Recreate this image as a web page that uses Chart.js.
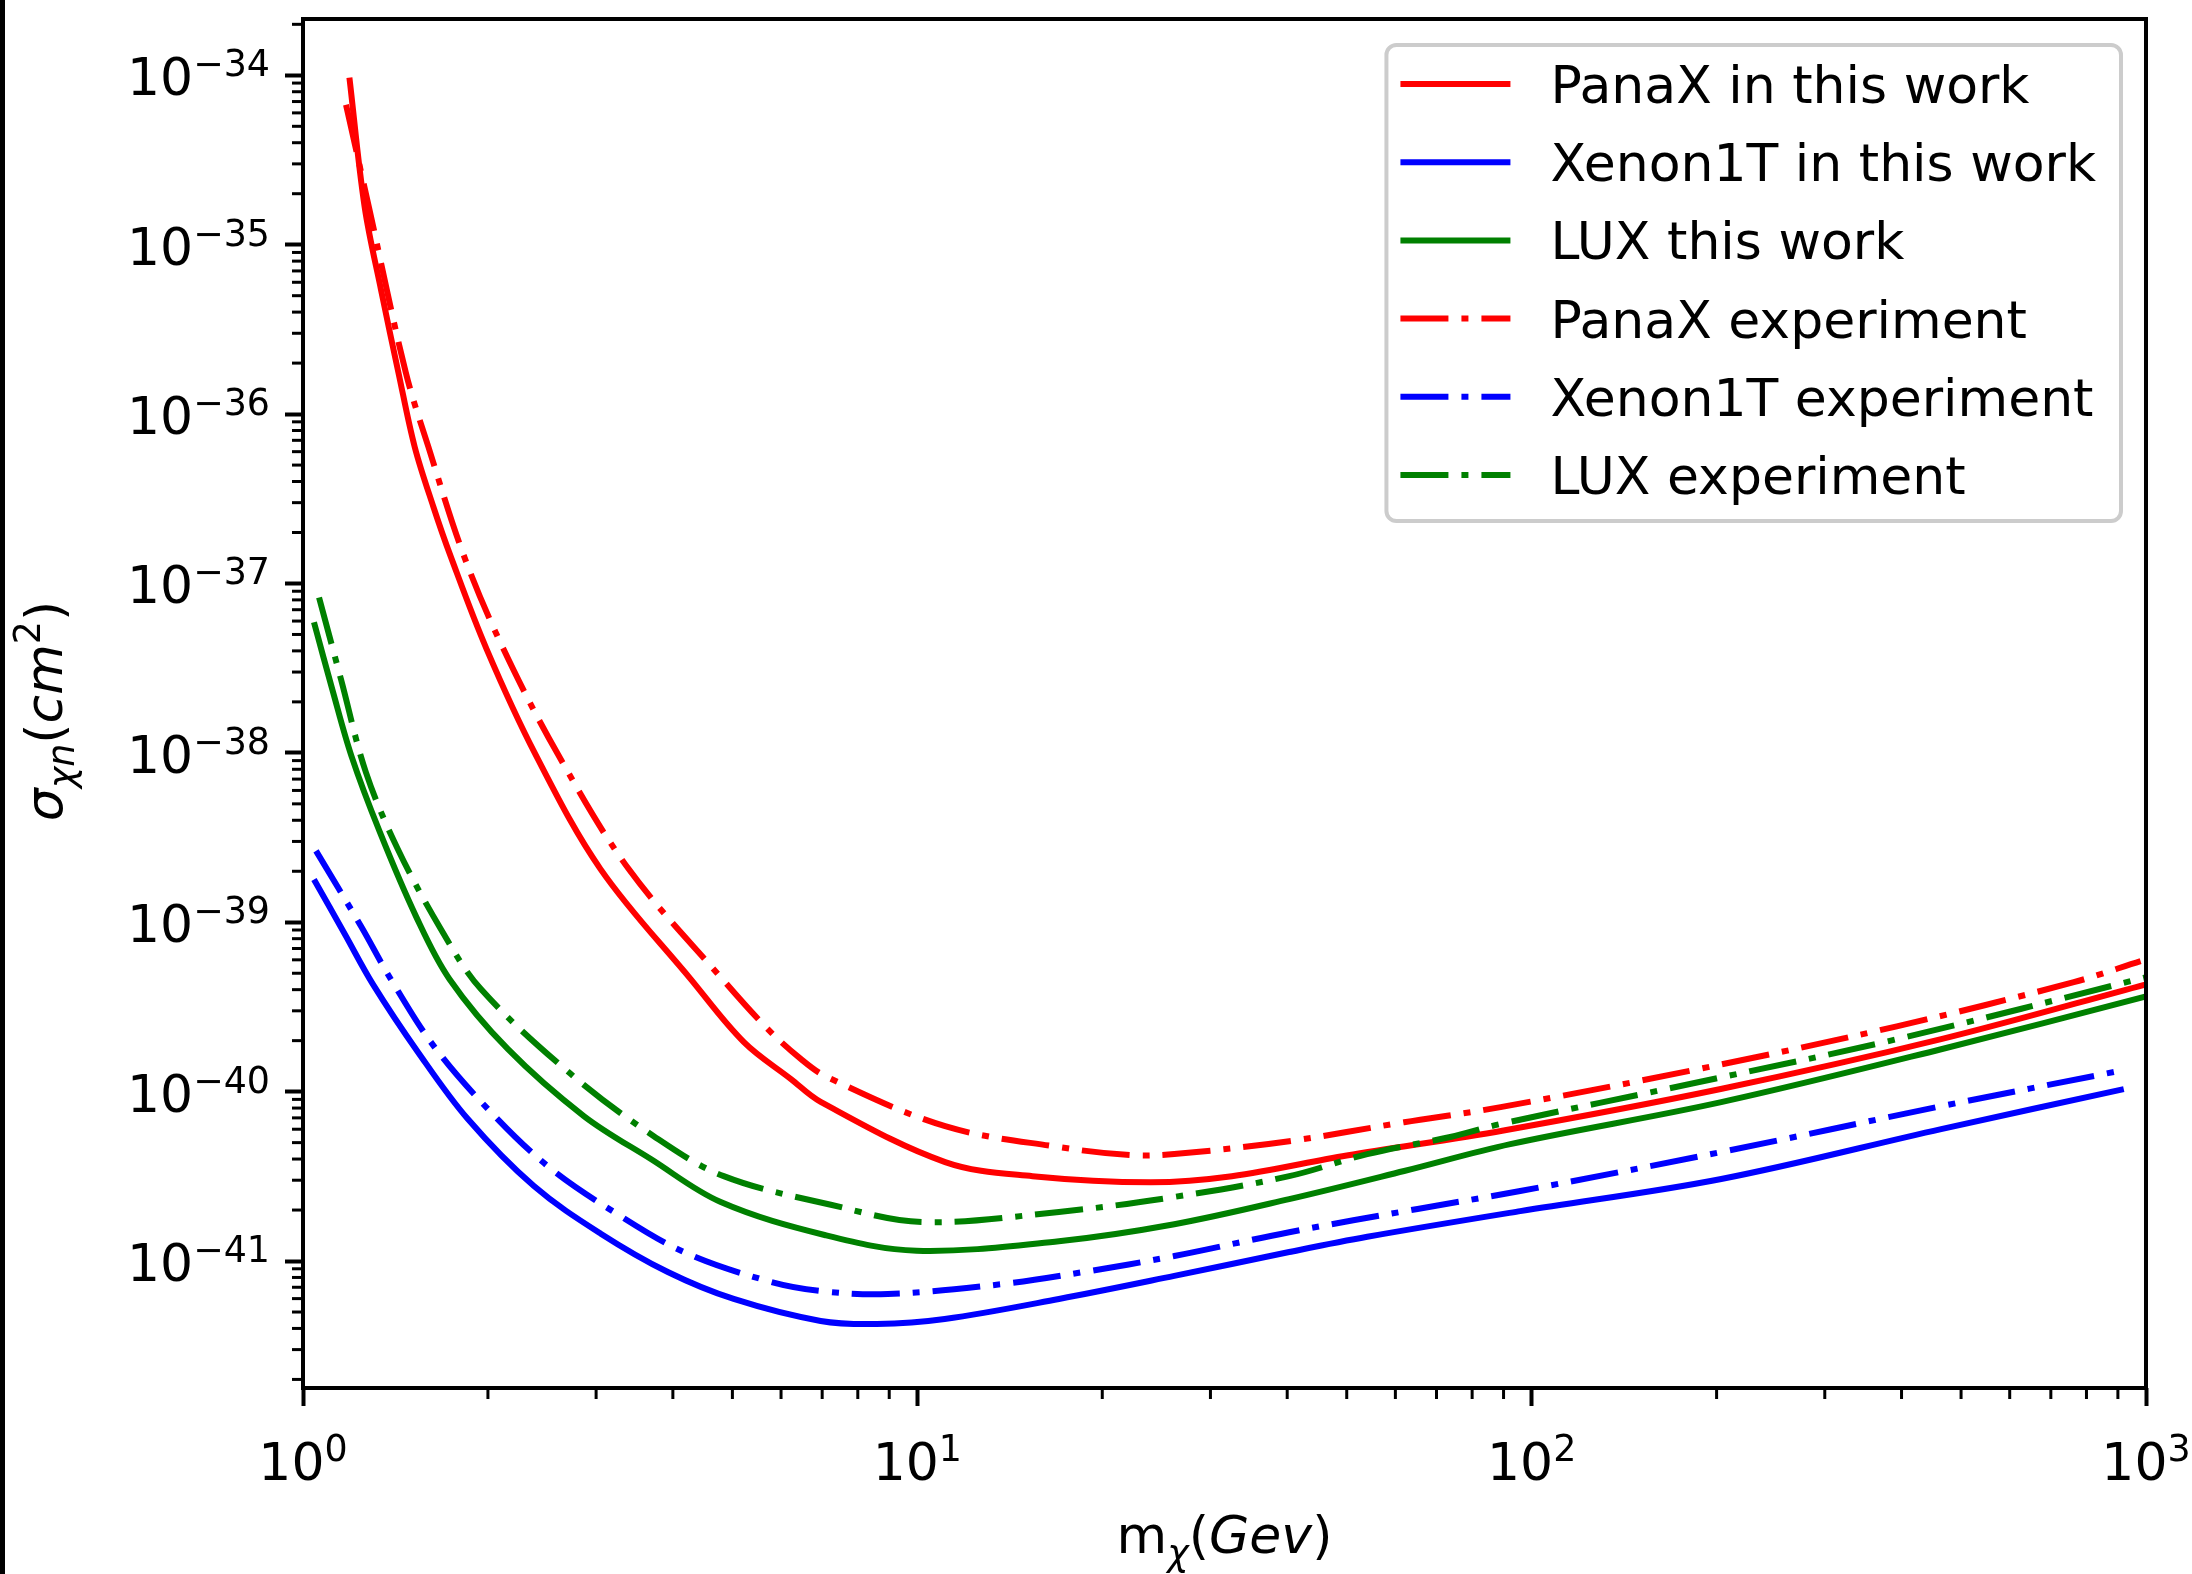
<!DOCTYPE html>
<html>
<head>
<meta charset="utf-8">
<script src="https://cdn.jsdelivr.net/npm/chart.js@4.4.0/dist/chart.umd.min.js"></script>
<style>
  html, body { margin: 0; padding: 0; background: #000; }
  #wrap { position: absolute; left: 5px; top: 0; width: 2187px; height: 1574px; background: #fff; }
</style>
</head>
<body>
<div id="wrap"><canvas id="chart" width="2187" height="1574"></canvas></div>
<script>
// axis ranges and tick decades
const xMin = 1, xMax = 1000;
const yMin = 1.78e-42, yMax = 2.15e-34;
const xTickExponents = [0, 1, 2, 3];
const yTickExponents = [-42, -41, -40, -39, -38, -37, -36, -35, -34];

// PanaX in this work
const panaxWorkMass = [1.19, 1.26, 1.34, 1.43, 1.52, 1.63, 1.74, 1.99, 2.39, 3.05, 4.28, 5.22, 6.22, 6.96, 11.1, 15.4, 24, 32.5, 50, 90, 204, 464, 1000];
const panaxWorkSigma = [9.7e-35, 1.67e-35, 5.4e-36, 1.76e-36, 6.4e-37, 2.84e-37, 1.44e-37, 4.1e-38, 9.8e-39, 2.06e-39, 4.6e-40, 1.96e-40, 1.19e-40, 8.7e-41, 3.84e-41, 3.17e-41, 2.92e-41, 3.17e-41, 4.2e-41, 5.9e-41, 1.04e-40, 2.04e-40, 4.3e-40];

// Xenon1T in this work
const xenonWorkMass = [1.042, 1.17, 1.3, 1.539, 1.855, 2.376, 3.053, 3.925, 5.025, 6.96, 8.59, 11.08, 17, 26.2, 40.3, 54, 95.8, 203.5, 464, 920];
const xenonWorkSigma = [1.79e-39, 8.5e-40, 4.3e-40, 1.71e-40, 6.89e-41, 2.77e-41, 1.45e-41, 8.61e-42, 5.97e-42, 4.43e-42, 4.25e-42, 4.55e-42, 5.97e-42, 8.17e-42, 1.13e-41, 1.39e-41, 1.97e-41, 3.05e-41, 6.01e-41, 1.035e-40];

// LUX this work
const luxWorkMass = [1.042, 1.116, 1.2, 1.334, 1.528, 1.732, 2.156, 2.865, 3.683, 4.786, 7.09, 9.97, 17, 26.2, 40.3, 62, 92.3, 203.5, 464, 1000];
const luxWorkSigma = [5.9e-38, 2.37e-38, 9.5e-39, 3.4e-39, 1.08e-39, 4.61e-40, 1.78e-40, 7.18e-41, 4.0e-41, 2.23e-41, 1.42e-41, 1.15e-41, 1.31e-41, 1.65e-41, 2.32e-41, 3.4e-41, 4.9e-41, 8.67e-41, 1.78e-40, 3.65e-40];

// PanaX experiment
const panaxExpMass = [1.175, 1.28, 1.47, 1.6, 1.83, 2.12, 2.6, 3.39, 4.82, 5.71, 6.46, 7.1, 11.1, 17, 22.2, 26.2, 40.3, 62, 89, 187, 393, 763, 980];
const panaxExpSigma = [6.7e-35, 1.67e-35, 1.76e-36, 6.4e-37, 1.44e-37, 4.1e-38, 9.8e-39, 2.06e-39, 4.6e-40, 2.34e-40, 1.56e-40, 1.23e-40, 6.25e-41, 4.71e-41, 4.22e-41, 4.28e-41, 5.1e-41, 6.6e-41, 8.1e-41, 1.36e-40, 2.43e-40, 4.43e-40, 5.9e-40];

// Xenon1T experiment
const xenonExpMass = [1.05, 1.243, 1.39, 1.634, 2.0, 2.503, 3.206, 4.17, 5.71, 6.96, 8.95, 13.76, 18.6, 26.2, 40.3, 65.2, 95.8, 203.5, 464, 900];
const xenonExpSigma = [2.64e-39, 9.46e-40, 4.61e-40, 1.85e-40, 7.89e-41, 3.63e-41, 1.95e-41, 1.13e-41, 7.62e-42, 6.65e-42, 6.38e-42, 7.31e-42, 8.6e-42, 1.07e-41, 1.48e-41, 2.03e-41, 2.59e-41, 4.4e-41, 8.2e-41, 1.32e-40];

// LUX experiment
const luxExpMass = [1.062, 1.153, 1.266, 1.427, 1.677, 1.948, 2.729, 3.724, 4.84, 7.23, 10.16, 17, 26.2, 40.3, 54, 73.7, 88.9, 187.4, 393, 1000];
const luxExpSigma = [8.26e-38, 2.72e-38, 7.67e-39, 2.7e-39, 9.1e-40, 4.03e-40, 1.27e-40, 5.46e-41, 3.17e-41, 2.15e-41, 1.7e-41, 1.95e-41, 2.39e-41, 3.17e-41, 4.28e-41, 5.4e-41, 6.44e-41, 1.14e-40, 2.04e-40, 4.73e-40];

const FONT = "'DejaVu Sans', sans-serif";
const BASE = 52;
const SMALL = 36.4;
const DASHDOT = [48, 13, 7, 13];

const series = [
  { label: 'PanaX in this work', mass: panaxWorkMass, sigma: panaxWorkSigma, color: '#ff0000', dash: [] },
  { label: 'Xenon1T in this work', mass: xenonWorkMass, sigma: xenonWorkSigma, color: '#0000ff', dash: [] },
  { label: 'LUX this work', mass: luxWorkMass, sigma: luxWorkSigma, color: '#008000', dash: [] },
  { label: 'PanaX experiment', mass: panaxExpMass, sigma: panaxExpSigma, color: '#ff0000', dash: DASHDOT },
  { label: 'Xenon1T experiment', mass: xenonExpMass, sigma: xenonExpSigma, color: '#0000ff', dash: DASHDOT },
  { label: 'LUX experiment', mass: luxExpMass, sigma: luxExpSigma, color: '#008000', dash: DASHDOT }
];

function decadeExp(v) {
  const e = Math.log10(v);
  const r = Math.round(e);
  return Math.abs(e - r) < 1e-6 ? r : null;
}

function logTicks(exps, min, max) {
  const ticks = [];
  exps.forEach(e => {
    for (let k = 1; k <= 9; k++) {
      const v = k * Math.pow(10, e);
      if (v >= min * 0.9999 && v <= max * 1.0001) ticks.push({ value: v, major: k === 1 });
    }
  });
  return ticks;
}

function fontOf(p) {
  return (p.italic ? 'italic ' : '') + p.size + 'px ' + FONT;
}

// text made of pieces with their own size / style / shift; align 'center' or 'right'
function drawPieces(ctx, pieces, x, y, align) {
  let total = 0;
  pieces.forEach(p => {
    ctx.font = fontOf(p);
    p.w = ctx.measureText(p.text).width;
    total += p.w;
  });
  let cx = align === 'right' ? x - total : x - total / 2;
  ctx.textAlign = 'left';
  pieces.forEach(p => {
    ctx.font = fontOf(p);
    ctx.fillText(p.text, cx, y + (p.dy || 0));
    cx += p.w;
  });
}

function powerPieces(exp) {
  return [
    { text: '10', size: BASE },
    { text: String(exp).replace('-', '\u2212'), size: SMALL, dy: -19 }
  ];
}

const framePlugin = {
  id: 'frame',
  afterDraw(chart) {
    const ctx = chart.ctx;
    const area = chart.chartArea;
    const xs = chart.scales.x, ys = chart.scales.y;
    ctx.save();
    ctx.strokeStyle = '#000';
    ctx.lineWidth = 3;
    xs.ticks.forEach(t => {
      if (t.major) return;
      const px = xs.getPixelForValue(t.value);
      ctx.beginPath(); ctx.moveTo(px, area.bottom); ctx.lineTo(px, area.bottom + 11); ctx.stroke();
    });
    ys.ticks.forEach(t => {
      if (t.major) return;
      const py = ys.getPixelForValue(t.value);
      ctx.beginPath(); ctx.moveTo(area.left, py); ctx.lineTo(area.left - 11, py); ctx.stroke();
    });
    ctx.lineWidth = 4;
    ctx.strokeRect(area.left, area.top, area.right - area.left, area.bottom - area.top);

    // tick labels 10^n
    ctx.fillStyle = '#000';
    ctx.textBaseline = 'alphabetic';
    xs.ticks.forEach(t => {
      const e = decadeExp(t.value);
      if (e === null) return;
      drawPieces(ctx, powerPieces(e), xs.getPixelForValue(t.value), area.bottom + 92, 'center');
    });
    ys.ticks.forEach(t => {
      const e = decadeExp(t.value);
      if (e === null) return;
      drawPieces(ctx, powerPieces(e), area.left - 33, ys.getPixelForValue(t.value) + 20, 'right');
    });

    // axis titles
    drawPieces(ctx, [
      { text: 'm', size: BASE },
      { text: 'χ', size: SMALL, italic: true, dy: 12 },
      { text: '(', size: BASE },
      { text: 'Gev', size: BASE, italic: true },
      { text: ')', size: BASE }
    ], (area.left + area.right) / 2, 1553, 'center');

    ctx.save();
    ctx.translate(57, 711);
    ctx.rotate(-Math.PI / 2);
    drawPieces(ctx, [
      { text: 'σ', size: BASE, italic: true },
      { text: 'χn', size: SMALL, italic: true, dy: 12 },
      { text: '(', size: BASE },
      { text: 'cm', size: BASE, italic: true },
      { text: '2', size: SMALL, dy: -22 },
      { text: ')', size: BASE }
    ], 0, 0, 'center');
    ctx.restore();
    ctx.restore();
  }
};

const legendPlugin = {
  id: 'legendBox',
  afterDraw(chart) {
    const ctx = chart.ctx;
    const area = chart.chartArea;
    const sets = chart.data.datasets;
    ctx.save();
    ctx.font = BASE + 'px ' + FONT;
    const textW = Math.max(...sets.map(d => ctx.measureText(d.label).width));
    const pad = 14, handle = 110, gap = 40, rowH = 78.2;
    const w = pad + handle + gap + textW + 25;
    const h = 476;
    const right = area.right - 25, top = area.top + 26, left = right - w;
    ctx.beginPath();
    ctx.roundRect(left, top, w, h, 10);
    ctx.fillStyle = 'rgba(255,255,255,0.8)';
    ctx.fill();
    ctx.strokeStyle = '#cccccc';
    ctx.lineWidth = 4;
    ctx.stroke();
    sets.forEach((d, i) => {
      const y = top + 39 + i * rowH;
      ctx.beginPath();
      ctx.setLineDash(d.borderDash);
      ctx.strokeStyle = d.borderColor;
      ctx.lineWidth = d.borderWidth;
      ctx.lineCap = 'butt';
      ctx.moveTo(left + pad, y);
      ctx.lineTo(left + pad + handle, y);
      ctx.stroke();
      ctx.setLineDash([]);
      ctx.fillStyle = '#000';
      ctx.textBaseline = 'alphabetic';
      ctx.fillText(d.label, left + pad + handle + gap, y + 19);
    });
    ctx.restore();
  }
};

const datasets = series.map((s, i) => ({
  label: s.label,
  data: s.mass.map((m, j) => ({ x: m, y: s.sigma[j] })),
  borderColor: s.color,
  borderWidth: 6,
  borderDash: s.dash,
  borderCapStyle: 'butt',
  borderJoinStyle: 'round',
  pointRadius: 0,
  fill: false,
  tension: 0.35,
  order: series.length - i
}));

const gridOpts = {
  drawOnChartArea: false,
  drawTicks: true,
  tickLength: 18,
  tickWidth: 4,
  tickColor: c => (c.tick && c.tick.major ? '#000' : 'rgba(0,0,0,0)')
};

new Chart(document.getElementById('chart'), {
  type: 'line',
  data: { datasets: datasets },
  options: {
    responsive: false,
    animation: false,
    events: [],
    layout: { padding: { top: 19, right: 46, left: 0, bottom: 0 } },
    plugins: { legend: { display: false }, tooltip: { enabled: false } },
    scales: {
      x: {
        type: 'logarithmic',
        min: xMin,
        max: xMax,
        afterBuildTicks: s => { s.ticks = logTicks(xTickExponents, xMin, xMax); },
        afterFit: s => { s.height = 186; s.paddingLeft = 0; s.paddingRight = 0; },
        ticks: { display: false, autoSkip: false, maxRotation: 0 },
        grid: gridOpts,
        border: { display: false }
      },
      y: {
        type: 'logarithmic',
        min: yMin,
        max: yMax,
        afterBuildTicks: s => { s.ticks = logTicks(yTickExponents, yMin, yMax); },
        afterFit: s => { s.width = 298; s.paddingTop = 0; s.paddingBottom = 0; },
        ticks: { display: false, autoSkip: false },
        grid: gridOpts,
        border: { display: false }
      }
    }
  },
  plugins: [framePlugin, legendPlugin]
});
</script>
</body>
</html>
